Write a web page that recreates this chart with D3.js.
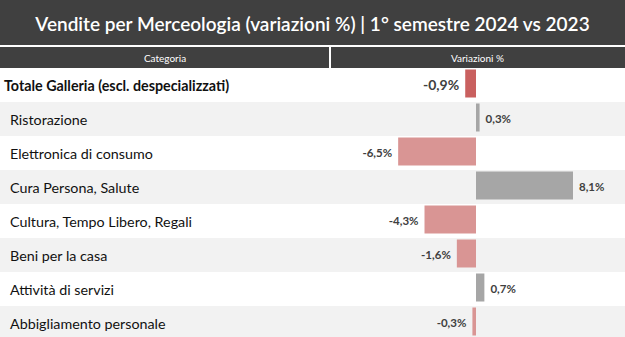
<!DOCTYPE html>
<html><head><meta charset="utf-8">
<script src="https://cdn.jsdelivr.net/npm/d3@7"></script>
<style>body{margin:0;background:#fff;}svg{display:block;}</style>
</head><body>
<svg id="c" width="625" height="337"></svg>
<script>
const title = "Vendite per Merceologia (variazioni %) | 1° semestre 2024 vs 2023";
const headers = ["Categoria", "Variazioni %"];
const categories = ["Totale Galleria (escl. despecializzati)", "Ristorazione", "Elettronica di consumo", "Cura Persona, Salute", "Cultura, Tempo Libero, Regali", "Beni per la casa", "Attività di servizi", "Abbigliamento personale"];
const values = [-0.9, 0.3, -6.5, 8.1, -4.3, -1.6, 0.7, -0.3];

const W = 625, H = 337;
const svg = d3.select("#c");
const font = "Lato, 'Open Sans', sans-serif";
const dark = "#404040";

// title bar
svg.append("rect").attr("x",0).attr("y",0).attr("width",W).attr("height",45).attr("fill",dark);
svg.append("text").attr("x",W/2).attr("y",23).attr("text-anchor","middle").attr("dominant-baseline","central")
  .attr("fill","#fff").attr("font-family",font).attr("font-size",19).attr("font-weight",600).text(title);

// header
const splitX = 330;
svg.append("rect").attr("x",0).attr("y",47).attr("width",splitX-1).attr("height",21).attr("fill",dark);
svg.append("rect").attr("x",splitX+1).attr("y",47).attr("width",W-splitX-1).attr("height",21).attr("fill",dark);
svg.append("text").attr("x",(splitX)/2).attr("y",58).attr("text-anchor","middle").attr("dominant-baseline","central")
  .attr("fill","#fff").attr("font-family",font).attr("font-size",10).text(headers[0]);
svg.append("text").attr("x",(splitX+W)/2).attr("y",58).attr("text-anchor","middle").attr("dominant-baseline","central")
  .attr("fill","#fff").attr("font-family",font).attr("font-size",10).text(headers[1]);

// rows
const y = d3.scaleBand().domain(categories).range([68, 68 + 34*categories.length]).padding(0);
const x = d3.scaleLinear().domain([0, 8.1]).range([476, 573]);

svg.selectAll("rect.row").data(categories).join("rect").attr("class","row")
  .attr("x",0).attr("y",d=>y(d)).attr("width",W).attr("height",y.bandwidth())
  .attr("fill",(d,i)=> i%2===1 ? "#f2f2f2" : "#ffffff");

svg.selectAll("text.cat").data(categories).join("text").attr("class","cat")
  .attr("x",(d,i)=> i===0 ? 4 : 10).attr("y",d=>y(d)+y.bandwidth()/2)
  .attr("dominant-baseline","central").attr("fill","#111")
  .attr("font-family",font).attr("font-size",14.3).attr("font-weight",(d,i)=> i===0 ? 700 : 400)
  .text(d=>d);

const data = categories.map((c,i)=>({c, v: values[i], i}));
svg.selectAll("rect.bar").data(data).join("rect").attr("class","bar")
  .attr("x",d=>Math.min(x(0),x(d.v))).attr("y",d=>y(d.c)+1.5)
  .attr("width",d=>Math.abs(x(d.v)-x(0))).attr("height",y.bandwidth()-6)
  .attr("fill",d=> d.i===0 ? "#c9605f" : (d.v<0 ? "#d99594" : "#a6a6a6"));

const fmt = v => (v<0?"-":"") + Math.abs(v).toFixed(1).replace(".", ",") + "%";
svg.selectAll("text.val").data(data).join("text").attr("class","val")
  .attr("x",d=> d.v<0 ? x(d.v)-6 : x(d.v)+6)
  .attr("y",d=>y(d.c)+ (y.bandwidth()-6)/2 + 2)
  .attr("text-anchor",d=> d.v<0 ? "end" : "start").attr("dominant-baseline","central")
  .attr("fill",dark).attr("font-family",font)
  .attr("font-size",d=> d.i===0 ? 14 : 11.5).attr("font-weight",700)
  .text(d=>fmt(d.v));
</script>
</body></html>
